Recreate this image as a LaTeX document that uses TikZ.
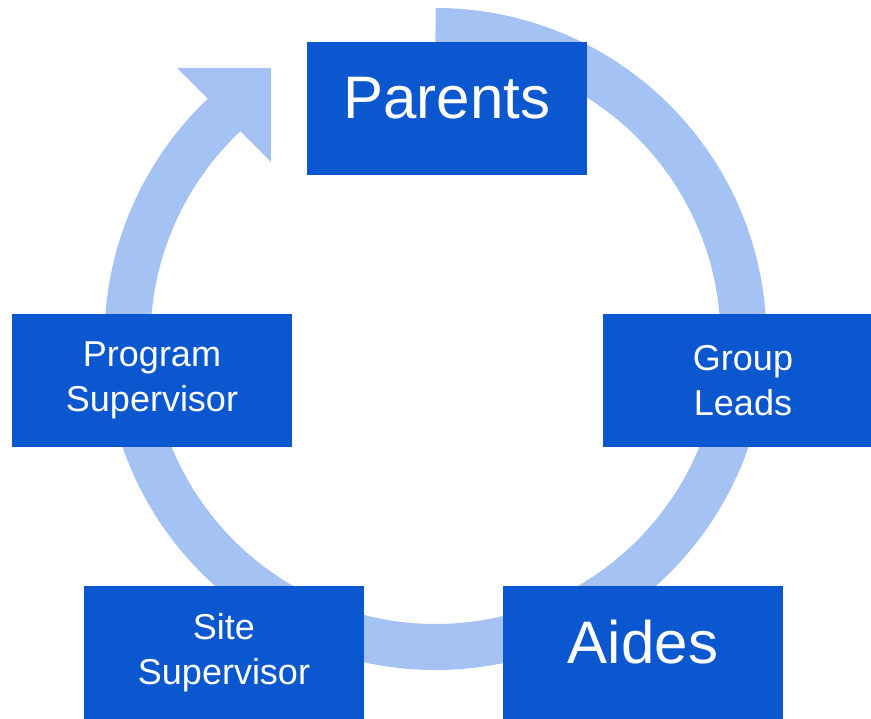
\documentclass[tikz,border=0pt]{standalone}
\usepackage{fontspec}
\setmainfont{Liberation Sans}
\definecolor{boxblue}{HTML}{0B57D0}
\definecolor{ringblue}{HTML}{A4C2F4}

\begin{document}
\begin{tikzpicture}[x=1pt, y=1pt,
        role/.style={fill=boxblue, text=white, minimum width=280pt, minimum height=133pt,
                     inner sep=0pt, align=center, font=\fontsize{36}{45}\selectfont},
        bigrole/.style={role, text depth=21pt, font=\fontsize{60}{72}\selectfont}]
        \useasboundingbox (-435.5,-380) rectangle (435.5,339);
        \clip (-435.5,-380) rectangle (435.5,339);
        % ring
        \draw[ringblue, line width=46pt] (90:308) arc[start angle=90, end angle=-227.5, radius=308];
        \fill[ringblue] (-258.5,271) -- (-164.5,271) -- (-164.5,177) -- cycle;
        % nodes
        \node[bigrole] (parents) at (11.5, 230.5)   {Parents};
        \node[role]    (leads)   at (307.5, -41.5)  {Group\\Leads};
        \node[bigrole] (aides)   at (207.5, -313.5) {Aides};
        \node[role]    (site)    at (-211.5, -313.5) {Site\\Supervisor};
        \node[role]    (program) at (-283.5, -41.5) {Program\\Supervisor};
\end{tikzpicture}
\end{document}
